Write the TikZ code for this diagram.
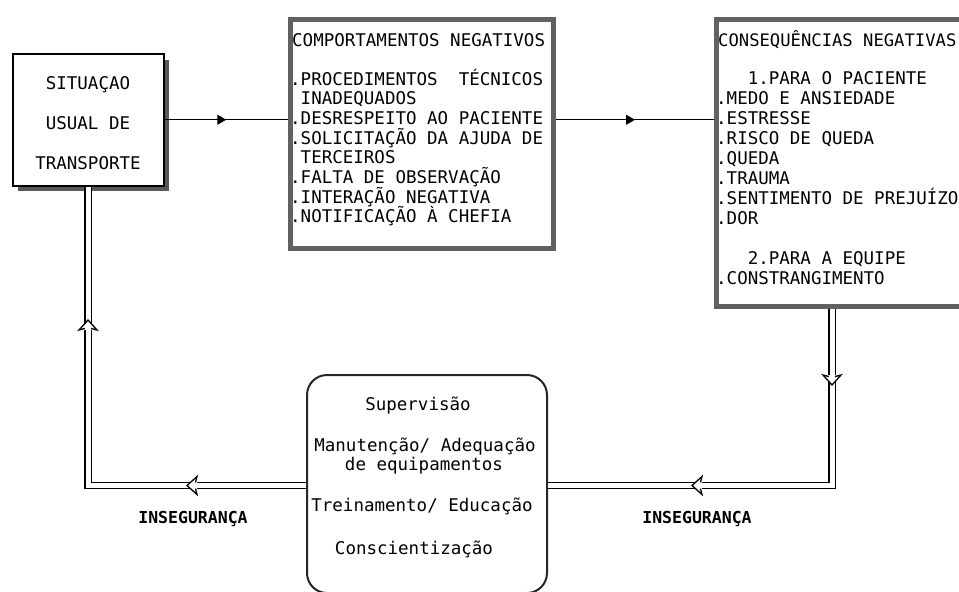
\documentclass[tikz,border=0pt]{standalone}
\usepackage{fontspec}
\setmonofont{DejaVu Sans Mono}
\usetikzlibrary{arrows.meta,decorations.markings}
\definecolor{bordergray}{gray}{0.38}
\definecolor{shadowgray}{gray}{0.35}
\begin{document}
\begin{tikzpicture}[x=1pt,y=-1pt,
  txt/.style={font=\ttfamily\fontsize{17.5}{20}\selectfont, inner sep=0pt},
  lbl/.style={font=\ttfamily\bfseries\fontsize{16.5}{20}\selectfont, inner sep=0pt},
  plainbox/.style={draw=black, line width=1.5pt, fill=white, inner sep=0pt, anchor=north west},
  heavybox/.style={draw=bordergray, line width=5pt, inner sep=0pt, anchor=north west},
  roundbox/.style={draw=black!85, line width=2pt, rounded corners=20pt, inner sep=0pt, anchor=north west},
  sline/.style={draw=black, line width=1.3pt, decoration={markings,
     mark=at position 0.5 with {\arrow{Triangle[length=9pt,width=10pt]}}},
     postaction={decorate}},
  dline/.style={draw=black, line width=1.2pt, double=white, double distance=5pt, line join=miter},
  chev/.pic={
     \fill[white] (5pt,0pt) -- (-5pt,9pt) -- (-5pt,-9pt) -- cycle;
     \draw[line width=1.3pt, line join=miter] (-3.5pt,3.1pt) -- (-5pt,9pt) -- (5pt,0pt) -- (-5pt,-9pt) -- (-3.5pt,-3.1pt);
  }
]
\useasboundingbox (0,0) rectangle (959,592);
\clip (0,0) rectangle (959,592);
\fill[white] (0,0) rectangle (959,592);

% ---- Situacao box with shadow
\fill[shadowgray] (163,60) rectangle (169,191);
\fill[shadowgray] (18,185) rectangle (169,191);
\node[plainbox, minimum width=151pt, minimum height=132pt] (sit) at (12,53) {};
\node[txt, anchor=base] (sit1) at (88,89) {SITUAÇAO};
\node[txt, anchor=base] (sit2) at (88,129) {USUAL DE};
\node[txt, anchor=base] (sit3) at (88,169) {TRANSPORTE};

% ---- Comportamentos box
\node[heavybox, minimum width=263pt, minimum height=229pt] (comp) at (288,17) {};
\node[txt, anchor=base west] (comptitle) at (292,46) {COMPORTAMENTOS NEGATIVOS};
\foreach \t [count=\i from 0] in {.PROCEDIMENTOS~~TÉCNICOS, ~INADEQUADOS,
   .DESRESPEITO AO PACIENTE, .SOLICITAÇÃO DA AJUDA DE, ~TERCEIROS,
   .FALTA DE OBSERVAÇÃO, .INTERAÇÃO NEGATIVA, .NOTIFICAÇÃO À CHEFIA}
  \node[txt, anchor=base west] (comp\i) at (290,85+19.7*\i) {\t};

% ---- Consequencias box
\node[heavybox, minimum width=270pt, minimum height=287pt] (cons) at (714,17) {};
\node[txt, anchor=base west, font=\ttfamily\fontsize{17.2}{20}\selectfont] (constitle) at (718,46) {CONSEQUÊNCIAS NEGATIVAS};
\foreach \t [count=\i from 0] in {~~~1.PARA O PACIENTE, .MEDO E ANSIEDADE, .ESTRESSE,
   .RISCO DE QUEDA, .QUEDA, .TRAUMA, .SENTIMENTO DE PREJUÍZO, .DOR, {},
   ~~~2.PARA A EQUIPE, .CONSTRANGIMENTO}
  \node[txt, anchor=base west] (cons\i) at (716,84+20*\i) {\t};

% ---- Bottom rounded box
\node[roundbox, minimum width=240pt, minimum height=218pt] (bot) at (306,374) {};
\node[txt, anchor=base] (bot1) at (418,410) {Supervisão};
\node[txt, anchor=base] (bot2) at (425,451) {Manutenção/ Adequação};
\node[txt, anchor=base] (bot3) at (424,470) {de equipamentos};
\node[txt, anchor=base] (bot4) at (422,511) {Treinamento/ Educação};
\node[txt, anchor=base] (bot5) at (414,554) {Conscientização};

% ---- single connectors
\draw[sline] (sit.east) -- (sit.east -| comp.west);
\draw[sline] (sit.east -| comp.east) -- (sit.east -| cons.west);

% ---- double feedback connectors
\coordinate (rc) at (832,485.5);
\coordinate (lc) at (88,485.5);
\draw[dline] (cons.south -| rc) -- (rc) -- (bot.east |- rc);
\draw[dline] (bot.west |- lc) -- (lc) -- (sit.south -| lc);

% hollow chevron heads
\pic[rotate=-90] at (832,380) {chev};
\pic[rotate=180] at (697,485.5) {chev};
\pic[rotate=180] at (192,485.5) {chev};
\pic[rotate=90] at (88,325) {chev};

% ---- labels
\node[lbl] (ins1) at (193,519) {INSEGURANÇA};
\node[lbl] (ins2) at (697,519) {INSEGURANÇA};
\end{tikzpicture}
\end{document}
